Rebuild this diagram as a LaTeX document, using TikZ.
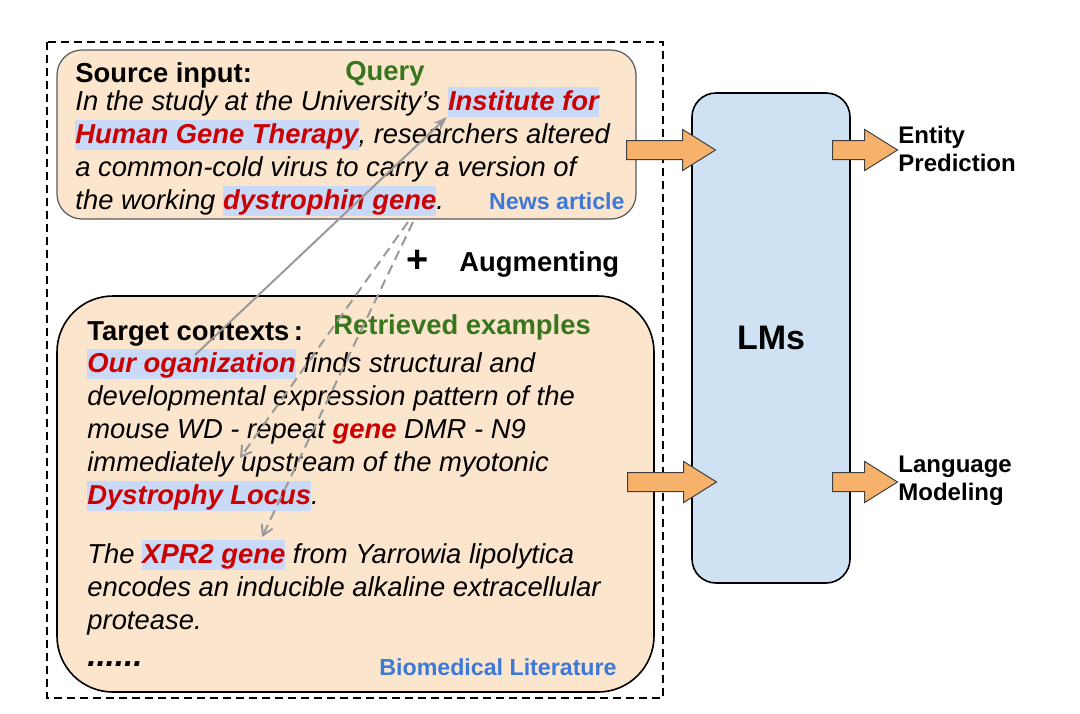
\documentclass[tikz,border=0pt]{standalone}
\usepackage{fontspec}
\setmainfont{Liberation Sans}
\usetikzlibrary{arrows.meta,shapes.arrows}

\definecolor{peach}{HTML}{FCE5CD}
\definecolor{hlblue}{HTML}{C9DAF8}
\definecolor{entred}{HTML}{CC0000}
\definecolor{qgreen}{HTML}{38761D}
\definecolor{tagblue}{HTML}{3C78D8}
\definecolor{lmblue}{HTML}{CFE2F3}
\definecolor{arrorange}{HTML}{F6B26B}
\definecolor{linkgray}{HTML}{999999}

% highlighted entity
\newcommand{\ent}[1]{{\setlength{\fboxsep}{0pt}\colorbox{hlblue}{\rule[-3.5pt]{0pt}{15pt}\textbf{\color{entred}#1}}}}

\begin{document}
\begin{tikzpicture}[x=0.5pt,y=-0.5pt,
    txt/.style={inner sep=0pt, anchor=base west, font=\fontsize{13.7}{16.5}\selectfont\itshape},
    ttl/.style={inner sep=0pt, anchor=base west, font=\fontsize{13.7}{16.5}\selectfont\bfseries},
    tag/.style={inner sep=0pt, anchor=base east, text=tagblue, font=\fontsize{11.6}{14}\selectfont\bfseries},
    outlbl/.style={inner sep=0pt, anchor=west, align=left, font=\fontsize{12}{14}\selectfont\bfseries},
    fat/.style={single arrow, anchor=tail, draw=black!75, fill=arrorange, line width=0.5pt, inner xsep=0pt, inner ysep=4.5pt,
        minimum width=20pt, single arrow head extend=5.5pt, single arrow tip angle=64},
    link/.style={draw=linkgray, line width=1pt}]

    \useasboundingbox (0,0) rectangle (1080,713);

    % outer frame
    \draw[dash pattern=on 4pt off 2.5pt, line width=0.75pt] (47,42) rectangle (663,698);

    % source input
    \draw[fill=peach, draw=black!65, line width=0.6pt, rounded corners=12.5pt] (57,50) rectangle (636,219);
    \node[ttl] (srctitle) at (75,82) {Source input:};
    \node[ttl, text=qgreen] (query) at (345,80) {Query};
    \foreach \ln [count=\i from 0] in {%
        {In the study at the University's \ent{Institute for}},
        {\ent{Human Gene Therapy}, researchers altered},
        {a common-cold virus to carry a version of},
        {the working \ent{dystrophin gene}.}}
        \node[txt] (src\i) at (75,110+33*\i) {\ln};
    \node[tag] (news) at (625,209) {News article};

    % augmenting
    \node[font=\fontsize{19}{19}\selectfont\bfseries, inner sep=0pt] (plus) at (418,261) {+};
    \node[ttl] (aug) at (459,271) {Augmenting};

    % target contexts
    \draw[fill=peach, line width=0.8pt, rounded corners=28pt] (57,296) rectangle (654,692);
    \node[ttl] (tgttitle) at (87,340) {Target contexts\,:};
    \node[ttl, text=qgreen] (retr) at (333,334) {Retrieved examples};
    \foreach \ln [count=\i from 0] in {%
        {\ent{Our oganization} finds structural and},
        {developmental expression pattern of the},
        {mouse WD - repeat \textbf{\color{entred}gene} DMR - N9},
        {immediately upstream of the myotonic},
        {\ent{Dystrophy Locus}.}}
        \node[txt] (tgta\i) at (87,372+33*\i) {\ln};
    \foreach \ln [count=\i from 0] in {%
        {The \ent{XPR2 gene} from Yarrowia lipolytica},
        {encodes an inducible alkaline extracellular},
        {protease.}}
        \node[txt] (tgtb\i) at (87,563+33*\i) {\ln};
    \node[txt, font=\fontsize{16.5}{16.5}\selectfont\bfseries\itshape] (dots) at (87,666) {......};
    \node[tag] (bio) at (617,675) {Biomedical Literature};

    % language models
    \node[draw, fill=lmblue, line width=0.8pt, rounded corners=12pt, minimum width=79pt, minimum height=245pt,
        font=\fontsize{17}{17}\selectfont\bfseries] (lms) at (771,338) {LMs};

    \node[fat, minimum height=44.5pt] (inA) at (626,150) {};
    \node[fat, minimum height=44.5pt] (inB) at (627,482) {};
    \node[fat, minimum height=32.5pt] (outA) at (832,150) {};
    \node[fat, minimum height=32.5pt] (outB) at (832,482) {};
    \node[outlbl] (ent) at (898,149) {Entity\\Prediction};
    \node[outlbl] (lm) at (898,481) {Language\\Modeling};

    % entity links
    \coordinate (orgA) at (195,355);
    \coordinate (instA) at (447,117);
    \coordinate (dysA) at (408,222);
    \coordinate (dysB) at (413,222);
    \coordinate (geneA) at (240,458);
    \coordinate (xprA) at (262,537);
    \draw[link, -{Stealth[length=7pt,width=5pt]}] (orgA) -- (instA);
    \draw[link, dash pattern=on 5pt off 3pt, -{Straight Barb[length=5pt,width=6pt]}] (dysA) -- (geneA);
    \draw[link, dash pattern=on 5pt off 3pt, -{Straight Barb[length=5pt,width=6pt]}] (dysB) -- (xprA);

\end{tikzpicture}
\end{document}
